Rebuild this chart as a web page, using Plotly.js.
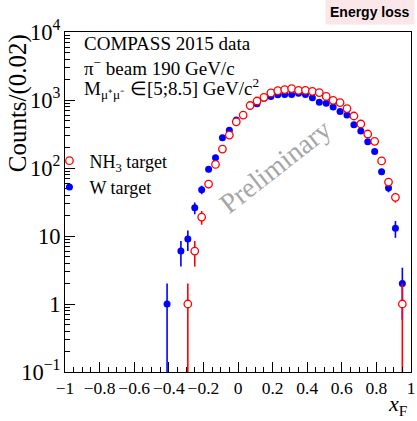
<!DOCTYPE html>
<html>
<head>
<meta charset="utf-8">
<script src="https://cdn.plot.ly/plotly-3.0.1.min.js"></script>
<style>html,body{margin:0;padding:0;background:#fff;}#chart{width:417px;height:421px;}</style>
</head>
<body>
<div id="chart"></div>
<script>
// x_F bin centres
const xF = [-0.41, -0.37, -0.33, -0.29, -0.25, -0.21, -0.17, -0.13, -0.09, -0.05, -0.01, 0.03, 0.07, 0.11, 0.15, 0.19, 0.23, 0.27, 0.31, 0.35, 0.39, 0.43, 0.47, 0.51, 0.55, 0.59, 0.63, 0.67, 0.71, 0.75, 0.79, 0.83, 0.87, 0.91, 0.95];
// W target counts
const wCounts = [1, null, 6, 9, 26, 48, 96, 142, 278, 358, 510, 609, 810, 880, 1065, 1130, 1190, 1205, 1200, 1255, 1200, 1080, 925, 893, 787, 680, 600, 432, 349, 243, 175, 88, 51, 13, 2];
// NH3 target counts
const nh3Counts = [null, null, null, 1, 6, 19, 58, 113, 190, 305, 477, 600, 830, 966, 1095, 1270, 1370, 1422, 1471, 1389, 1389, 1342, 1284, 1130, 990, 916, 748, 582, 444, 316, 247, 127, 62, 37, 1];
const seriesNames = ['W target', 'NH<sub>3</sub> target'];
const infoLines = ['COMPASS 2015 data', '\u03c0<sup>\u2212</sup> beam 190 GeV/c', 'M<sub>\u03bc\u207a\u03bc\u207b</sub> \u2208[5;8.5] GeV/c<sup>2</sup>'];

const serif = 'Liberation Serif, Times New Roman, serif';

const traces = [
  {
    type: 'scatter', mode: 'markers', name: seriesNames[0],
    x: xF, y: wCounts,
    marker: {symbol: 'circle', size: 7, color: '#0000ff'},
    error_y: {type: 'sqrt', visible: true, width: 0, thickness: 1.6, color: '#0000ff'},
    cliponaxis: true
  },
  {
    type: 'scatter', mode: 'markers', name: seriesNames[1],
    x: xF, y: nh3Counts,
    marker: {symbol: 'circle', size: 7.5, color: '#ffffff', line: {color: '#ff0000', width: 1.3}},
    error_y: {type: 'sqrt', visible: true, width: 0, thickness: 1.6, color: '#ff0000'},
    cliponaxis: true
  }
];

const axisCommon = {
  showline: true, mirror: true, linecolor: '#000', linewidth: 1,
  ticks: 'inside', ticklen: 10, tickwidth: 1, tickcolor: '#000',
  showgrid: false, zeroline: false,
  tickfont: {family: serif, size: 18, color: '#000'}
};

const layout = {
  width: 417, height: 421,
  margin: {l: 65, r: 6, t: 32, b: 49},
  paper_bgcolor: '#fff', plot_bgcolor: '#fff',
  showlegend: true,
  legend: {
    x: -0.045, y: 0.675, xanchor: 'left', yanchor: 'top',
    bgcolor: 'rgba(0,0,0,0)', borderwidth: 0, traceorder: 'reversed',
    font: {family: serif, size: 18, color: '#000'}, itemwidth: 30, tracegroupgap: 0
  },
  xaxis: Object.assign({}, axisCommon, {
    range: [-1, 1], tick0: -1, dtick: 0.2, tickangle: 0, automargin: false,
    tickfont: {family: serif, size: 17.5, color: '#000'},
    minor: {ticks: 'inside', ticklen: 5, tick0: -1, dtick: 0.05, tickcolor: '#000', showgrid: false}
  }),
  yaxis: Object.assign({}, axisCommon, {
    type: 'log', range: [-1, 4], dtick: 1, exponentformat: 'power',
    minor: {ticks: 'inside', ticklen: 5, dtick: 'D1', tickcolor: '#000', showgrid: false}
  }),
  annotations: [
    {xref: 'paper', yref: 'paper', x: 0.049, y: 0.967, xanchor: 'left', yanchor: 'middle', showarrow: false,
     text: infoLines[0], font: {family: serif, size: 19, color: '#000'}},
    {xref: 'paper', yref: 'paper', x: 0.049, y: 0.897, xanchor: 'left', yanchor: 'middle', showarrow: false,
     text: infoLines[1], font: {family: serif, size: 19, color: '#000'}},
    {xref: 'paper', yref: 'paper', x: 0.049, y: 0.835, xanchor: 'left', yanchor: 'middle', showarrow: false,
     text: infoLines[2], font: {family: serif, size: 19, color: '#000'}},
    {xref: 'paper', yref: 'paper', x: -0.135, y: 1.0, xanchor: 'center', yanchor: 'top', showarrow: false,
     textangle: -90, text: 'Counts/(0.02)', font: {family: serif, size: 25, color: '#000'}},
    {xref: 'paper', yref: 'paper', x: 0.995, y: -0.098, xanchor: 'right', yanchor: 'middle', showarrow: false,
     text: '<i>x</i><sub>F</sub>', font: {family: serif, size: 22, color: '#000'}},
    {xref: 'paper', yref: 'paper', x: 0.607, y: 0.605, xanchor: 'center', yanchor: 'middle', showarrow: false,
     textangle: -38, text: 'Preliminary', font: {family: serif, size: 28, color: '#a6a6a6'}},
    {xref: 'paper', yref: 'paper', x: 1.012, y: 1.059, xanchor: 'right', yanchor: 'middle', showarrow: false,
     text: '<b>Energy loss</b>', bgcolor: '#fbe6ea', borderpad: 4,
     font: {family: 'Liberation Sans, Arial, sans-serif', size: 14, color: '#000'}}
  ]
};

Plotly.newPlot('chart', traces, layout, {displayModeBar: false, staticPlot: true});
</script>
</body>
</html>
